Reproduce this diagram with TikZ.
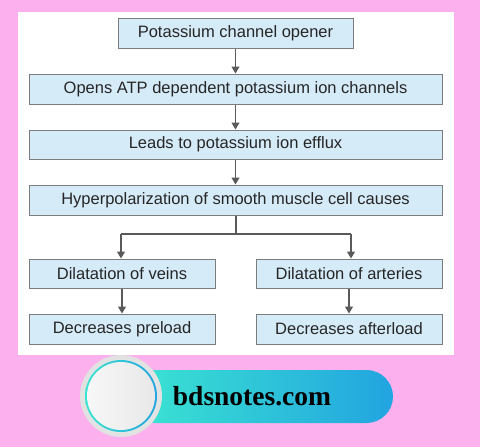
\documentclass[tikz,border=0pt]{standalone}
\usepackage{fontspec}
\setmainfont{Liberation Sans}
\newfontfamily\logofont{Liberation Serif}
\usetikzlibrary{arrows.meta,calc}
\definecolor{pinkbg}{HTML}{FCB0EE}
\definecolor{boxfill}{HTML}{D5EBF8}
\definecolor{boxline}{HTML}{7C7C7C}
\definecolor{arrcol}{HTML}{5A5A5A}
\definecolor{txtcol}{HTML}{262626}
\definecolor{tealA}{HTML}{3BE5D1}
\definecolor{blueB}{HTML}{22A4E0}
\tikzset{
  flowbox/.style={draw=boxline, fill=boxfill, line width=1pt, inner sep=0pt,
    font=\fontsize{16.5}{18}\selectfont, text=txtcol, anchor=center},
  conn/.style={draw=arrcol, line width=1.1pt},
  arr/.style={conn, -{Triangle[width=8pt,length=7pt]}, arrcol}
}
\begin{document}
\begin{tikzpicture}[x=1pt,y=-1pt]
\useasboundingbox (0,0) rectangle (480,447);
\fill[pinkbg] (0,0) rectangle (480,447);
\fill[white] (18,12) rectangle (454,355);
% boxes
\node[flowbox, minimum width=235pt, minimum height=30pt] (b1) at (235.5,33) {Potassium channel opener};
\node[flowbox, minimum width=413pt, minimum height=30pt] (b2) at (235.5,89) {Opens ATP dependent potassium ion channels};
\node[flowbox, minimum width=413pt, minimum height=29pt] (b3) at (235.5,144.5) {Leads to potassium ion efflux};
\node[flowbox, minimum width=413pt, minimum height=30pt] (b4) at (235.5,200) {Hyperpolarization of smooth muscle cell causes};
\node[flowbox, minimum width=186pt, minimum height=29pt] (b5l) at (122,273.5) {Dilatation of veins};
\node[flowbox, minimum width=186pt, minimum height=29pt] (b5r) at (349,273.5) {Dilatation of arteries};
\node[flowbox, minimum width=186pt, minimum height=30pt] (b6l) at (122,329) {Decreases preload};
\node[flowbox, minimum width=186pt, minimum height=30pt] (b6r) at (349,329) {Decreases afterload};
% connectors
\draw[arr] (b1) -- (b2);
\draw[arr] (b2) -- (b3);
\draw[arr] (b3) -- (b4);
\coordinate (j) at (236,234);
\coordinate (jl) at (121,234);
\coordinate (jr) at (351,234);
\draw[conn] (b4.south -| j) -- (j);
\draw[conn] (jl) -- (jr);
\draw[arr] (jl) -- (jl |- b5l.north);
\draw[arr] (jr) -- (jr |- b5r.north);
\draw[arr] (b5l) -- (b6l);
\draw[arr] (b5r) -- (b6r);
% logo
\shade[left color=tealA, right color=blueB, rounded corners=26.5pt] (130,370) rectangle (393,423);
\node[font=\logofont\bfseries\fontsize{27.5}{30}\selectfont, text=black] (logo) at (252,396) {bdsnotes.com};
\shade[inner color=white, outer color=black!12] (121,396) circle (41);
\shade[left color=tealA, right color=blueB] (121,396) circle (36);
\shade[left color=white!97!black, right color=black!9] (121,396) circle (34);
\end{tikzpicture}
\end{document}
